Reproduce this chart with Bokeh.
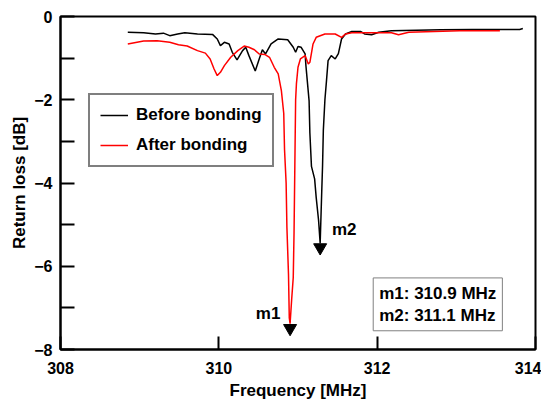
from bokeh.plotting import figure
from bokeh.models import FixedTicker, Label, Legend, LegendItem
from bokeh.embed import file_html
from bokeh.resources import INLINE

# ---- data ----
before_freq = [308.85, 309.05, 309.20, 309.30, 309.38, 309.48, 309.57, 309.73, 309.92, 309.98,
               310.02, 310.07, 310.13, 310.17, 310.23, 310.30, 310.34, 310.38, 310.46, 310.51,
               310.55, 310.59, 310.66, 310.75, 310.87, 310.94, 310.97, 311.00, 311.04, 311.09,
               311.10, 311.14, 311.15, 311.17, 311.21, 311.23, 311.26, 311.28, 311.30, 311.31,
               311.32, 311.34, 311.36, 311.38, 311.42, 311.47, 311.51, 311.55, 311.60, 311.68,
               311.79, 311.84, 311.93, 312.02, 312.18, 312.50, 312.80, 313.20, 313.50, 313.80,
               313.84]
before_db = [-0.38, -0.39, -0.42, -0.40, -0.46, -0.42, -0.39, -0.42, -0.43, -0.54,
             -0.70, -0.62, -0.66, -0.86, -1.04, -0.82, -0.74, -0.94, -1.31, -1.02,
             -0.80, -0.90, -0.66, -0.54, -0.56, -0.74, -0.86, -0.72, -0.74, -0.90,
             -1.18, -2.02, -2.80, -3.60, -3.90, -4.35, -4.90, -5.45, -4.20, -3.60,
             -2.74, -2.00, -1.54, -1.06, -0.94, -1.02, -0.89, -0.54, -0.42, -0.36,
             -0.36, -0.42, -0.44, -0.38, -0.34, -0.33, -0.32, -0.31, -0.31, -0.31,
             -0.29]

after_freq = [308.85, 309.05, 309.22, 309.38, 309.49, 309.60, 309.73, 309.83, 309.89, 309.94,
              309.98, 310.02, 310.07, 310.15, 310.24, 310.32, 310.38, 310.45, 310.51, 310.58,
              310.64, 310.70, 310.75, 310.79, 310.82, 310.83, 310.85, 310.86, 310.88, 310.89,
              310.90, 310.92, 310.94, 310.95, 310.96, 310.97, 310.98, 311.00, 311.03, 311.09,
              311.13, 311.15, 311.19, 311.23, 311.34, 311.47, 311.55, 311.60, 311.68, 312.18,
              312.27, 312.40, 313.04, 313.55]
after_db = [-0.66, -0.59, -0.58, -0.62, -0.68, -0.71, -0.82, -0.88, -1.02, -1.26,
            -1.42, -1.34, -1.18, -0.98, -0.82, -0.71, -0.74, -0.80, -0.90, -0.91,
            -0.98, -1.22, -1.38, -1.78, -2.33, -3.20, -4.00, -5.07, -6.20, -7.24,
            -7.38, -6.80, -6.27, -5.20, -3.60, -2.00, -1.62, -1.22, -1.02, -0.94,
            -1.14, -1.10, -0.66, -0.50, -0.42, -0.42, -0.50, -0.42, -0.39, -0.39,
            -0.44, -0.38, -0.34, -0.34]

marker_names = ["m1", "m2"]
marker_freq = [310.90, 311.28]
marker_db = [-7.49, -5.55]
marker_text = "m1: 310.9 MHz\nm2: 311.1 MHz"

x_ticks = [308, 310, 312, 314]
y_ticks = [0, -2, -4, -6, -8]
y_minor = [-1, -3, -5, -7]

FONT = "Liberation Sans"

p = figure(width=541, height=402, x_range=(308, 314), y_range=(-8, 0),
           output_backend="svg", toolbar_location=None,
           min_border_left=60, min_border_right=6, min_border_top=16, min_border_bottom=53)
p.grid.visible = False
p.outline_line_color = "black"
p.outline_line_width = 2
p.background_fill_color = "white"
p.border_fill_color = "white"

r_before = p.line(before_freq, before_db, line_color="black", line_width=1.5)
r_after = p.line(after_freq, after_db, line_color="#ff0000", line_width=1.5)

p.scatter(marker_freq, marker_db, marker="inverted_triangle", size=13,
          fill_color="black", line_color="black")

offsets = [(-22, 15), (24, 18)]
for name, fx, fy, (dx, dy) in zip(marker_names, marker_freq, marker_db, offsets):
    p.add_layout(Label(x=fx, y=fy, x_offset=dx, y_offset=dy, text=name,
                       text_align="center", text_baseline="middle",
                       text_font=FONT, text_font_style="bold", text_font_size="17px",
                       text_color="black"))

p.add_layout(Label(x=311.95, y=-7.55, text=marker_text,
                   text_align="left", text_baseline="bottom",
                   text_font=FONT, text_font_style="bold", text_font_size="17px",
                   text_color="black", text_line_height=1.15,
                   border_line_color="#808080", border_line_width=1,
                   background_fill_color="white", padding=6))

# axes
for ax in (p.xaxis[0], p.yaxis[0]):
    ax.axis_line_width = 2
    ax.axis_line_color = "black"
    ax.major_tick_line_width = 2
    ax.minor_tick_line_width = 2
    ax.major_tick_out = 0
    ax.minor_tick_out = 0
    ax.major_label_text_font = FONT
    ax.major_label_text_font_style = "bold"
    ax.major_label_text_font_size = "16px"
    ax.major_label_text_color = "black"
    ax.axis_label_text_font = FONT
    ax.axis_label_text_font_style = "bold"
    ax.axis_label_text_font_size = "17px"
    ax.axis_label_text_color = "black"

p.xaxis.ticker = FixedTicker(ticks=x_ticks)
p.xaxis.major_tick_in = 13
p.xaxis.minor_tick_in = 0
p.xaxis.major_label_standoff = 12
p.xaxis.axis_label = "Frequency [MHz]"
p.xaxis.axis_label_standoff = 4

p.yaxis.ticker = FixedTicker(ticks=y_ticks, minor_ticks=y_minor)
p.yaxis.major_tick_in = 14
p.yaxis.minor_tick_in = 14
p.yaxis.major_label_standoff = 8
p.yaxis.axis_label = "Return loss [dB]"
p.yaxis.axis_label_standoff = 2

legend = Legend(items=[LegendItem(label="Before bonding", renderers=[r_before]),
                       LegendItem(label="After bonding", renderers=[r_after])],
                location=(28, 182), margin=0, padding=10, spacing=10,
                glyph_width=28, glyph_height=20, label_height=20, label_standoff=8,
                label_text_font=FONT, label_text_font_style="bold",
                label_text_font_size="17px", label_text_color="black",
                border_line_color="black", border_line_width=2,
                background_fill_color="white", background_fill_alpha=1)
p.add_layout(legend)

open("out.html", "w").write(file_html(p, INLINE))
